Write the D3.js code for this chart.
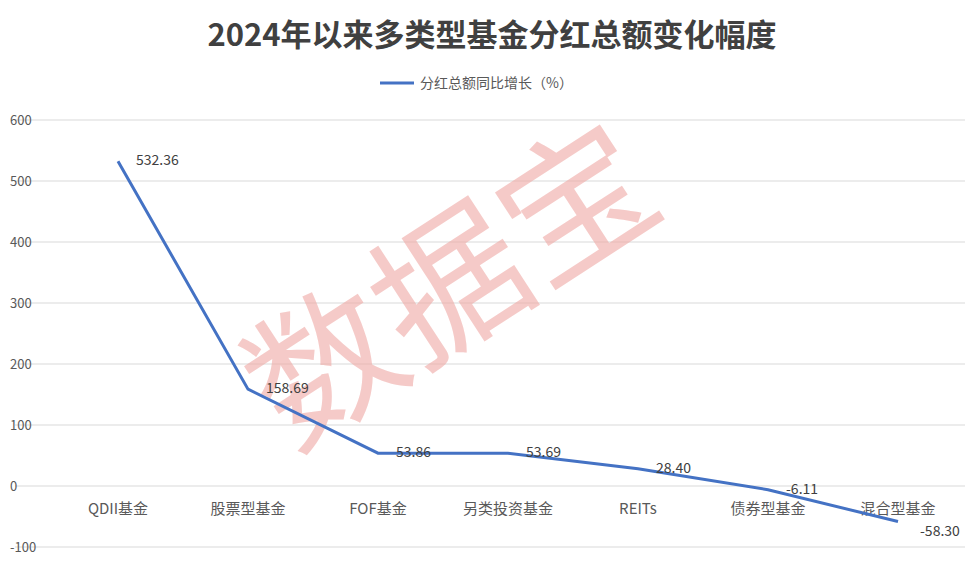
<!DOCTYPE html>
<html><head><meta charset="utf-8">
<script src="https://cdn.jsdelivr.net/npm/d3@7"></script>
<style>body{margin:0;background:#fff;font-family:"Noto Sans CJK SC","Noto Sans",sans-serif;}</style>
</head><body><svg id="c" width="980" height="566"></svg>
<script>
var categories = ["QDII基金", "股票型基金", "FOF基金", "另类投资基金", "REITs", "债券型基金", "混合型基金"];
var values = [532.36, 158.69, 53.86, 53.69, 28.40, -6.11, -58.30];
var yTicks = [-100, 0, 100, 200, 300, 400, 500, 600];

var svg = d3.select("#c");
var x = d3.scalePoint().domain(categories).range([118, 898]);
var y = d3.scaleLinear().domain([-100, 600]).range([547, 120]);

svg.append("text").attr("x", 492).attr("y", 46).attr("text-anchor", "middle")
  .attr("font-size", 31).attr("font-weight", "bold").attr("fill", "#404040")
  .text("2024年以来多类型基金分红总额变化幅度");

// legend
svg.append("line").attr("x1", 380).attr("x2", 414).attr("y1", 83).attr("y2", 83)
  .attr("stroke", "#4472c4").attr("stroke-width", 3);
svg.append("text").attr("x", 420).attr("y", 88).attr("font-size", 14).attr("fill", "#595959")
  .text("分红总额同比增长（%）");

// grid
svg.selectAll(".g").data(yTicks).enter().append("line")
  .attr("x1", 15).attr("x2", 965).attr("y1", function (d) { return y(d); }).attr("y2", function (d) { return y(d); })
  .attr("stroke", "#d9d9d9");
svg.selectAll(".yl").data(yTicks).enter().append("text")
  .attr("x", 10).attr("y", function (d) { return y(d) + 5; })
  .attr("font-size", 13).attr("fill", "#595959").text(function (d) { return d; });

// category labels
svg.selectAll(".xl").data(categories).enter().append("text")
  .attr("x", function (d) { return x(d); }).attr("y", 514).attr("text-anchor", "middle")
  .attr("font-size", 15).attr("fill", "#595959").text(function (d) { return d; });

// watermark
svg.append("text").attr("transform", "translate(480,330) rotate(-33)").attr("text-anchor", "middle")
  .attr("font-size", 150).attr("fill", "#f0a8a4").attr("opacity", 0.6).text("数据宝");

var line = d3.line().x(function (d, i) { return x(categories[i]); }).y(function (d) { return y(d); });
svg.append("path").datum(values).attr("d", line).attr("fill", "none")
  .attr("stroke", "#4472c4").attr("stroke-width", 3);

svg.selectAll(".vl").data(values).enter().append("text")
  .attr("x", function (d, i) { return x(categories[i]) + (i == values.length - 1 ? 22 : 18); })
  .attr("y", function (d, i) { return y(d) + (i == values.length - 1 ? 14 : 4); })
  .attr("font-size", 14).attr("fill", "#404040")
  .text(function (d) { return d.toFixed(2); });
</script></body></html>
